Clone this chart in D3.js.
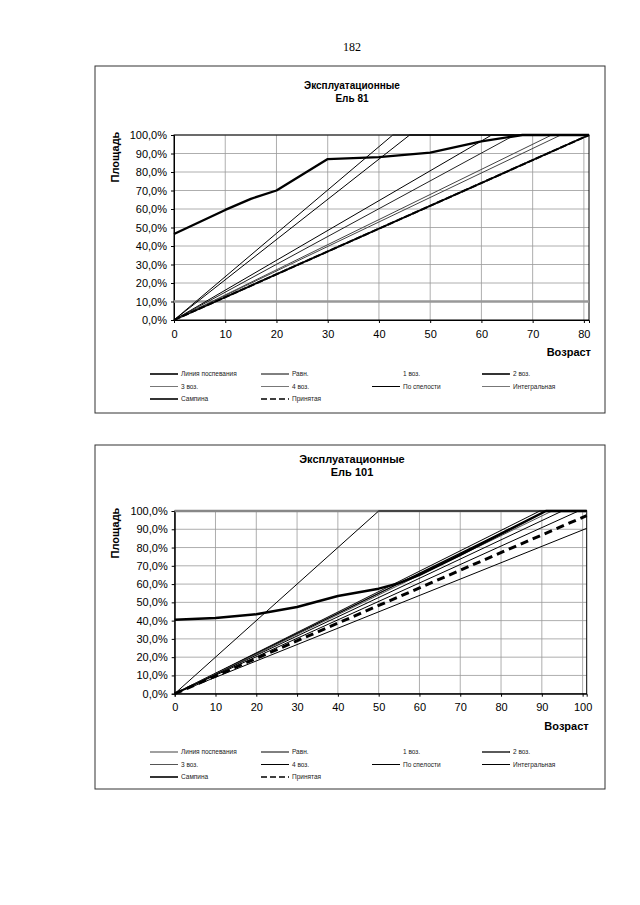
<!DOCTYPE html>
<meta charset="utf-8">
<style>
  body { margin: 0; background: #fff; }
  text { font-family: "Liberation Sans", Arial, sans-serif; }
</style>
<body>
<div id="page"></div>
<script src="https://d3js.org/d3.v7.min.js"></script>
<script>
// legend order (same for both charts)
var seriesNames = ["Линия поспевания", "Равн.", "1 воз.", "2 воз.", "3 воз.", "4 воз.",
  "По спелости", "Интегральная", "Сампина", "Принятая"];

var yTicks = [0, 10, 20, 30, 40, 50, 60, 70, 80, 90, 100];
var xTicks81 = [0, 10, 20, 30, 40, 50, 60, 70, 80];
var xTicks101 = [0, 10, 20, 30, 40, 50, 60, 70, 80, 90, 100];

// Ель 81: [возраст, площадь %]
var el81Line = [[0, 10], [81, 10]];
var el81Ravn = [[0, 0], [42.7, 100], [81, 100]];
var el81Voz1 = [[0, 0], [46, 100], [81, 100]];
var el81Voz2 = [[0, 0], [81, 100]];
var el81Voz3 = [[0, 0], [73.7, 100], [81, 100]];
var el81Voz4 = [[0, 0], [75.5, 100], [81, 100]];
var el81Spel = [[0, 0], [62, 100], [81, 100]];
var el81Integr = [[0, 0], [66.5, 100], [81, 100]];
var el81Samp = [[0, 46.5], [10, 59.5], [15, 65.5], [20, 70], [25, 78.5], [30, 87], [40, 88],
  [50, 90.5], [60, 96.5], [68, 100], [81, 100]];
var el81Prin = [[0, 0], [81, 100]];

// Ель 101
var el101Line = [[0, 100], [101, 100]];
var el101Ravn = [[0, 0], [89.5, 100], [101, 100]];
var el101Voz1 = [[0, 0], [50, 100], [101, 100]];
var el101Voz2 = [[0, 0], [91, 100], [101, 100]];
var el101Voz3 = [[0, 0], [92.5, 100], [101, 100]];
var el101Voz4 = [[0, 0], [95, 100], [101, 100]];
var el101Spel = [[0, 0], [101, 90.5]];
var el101Integr = [[0, 0], [99, 100], [101, 100]];
var el101Samp = [[0, 40.5], [10, 41.5], [20, 43.5], [30, 47.5], [40, 53.5], [50, 57.5],
  [55, 60.5], [60, 65], [70, 76], [80, 87.5], [91, 100], [101, 100]];
var el101Prin = [[0, 0], [101, 97.5]];

var svg = d3.select("#page").append("svg")
  .attr("width", 640).attr("height", 905);

svg.append("text")
  .attr("x", 352).attr("y", 51)
  .attr("text-anchor", "middle")
  .style("font-family", "'Liberation Serif', 'Times New Roman', serif")
  .style("font-size", "12px")
  .text("182");

function drawChart(c) {
  // outer frame
  svg.append("rect")
    .attr("x", c.box[0]).attr("y", c.box[1])
    .attr("width", c.box[2]).attr("height", c.box[3])
    .attr("fill", "none").attr("stroke", "#333").attr("stroke-width", 1);

  svg.append("text")
    .attr("x", 352).attr("y", c.titleY)
    .attr("text-anchor", "middle")
    .style("font-weight", "bold").style("font-size", c.titleSize)
    .text("Эксплуатационные");
  svg.append("text")
    .attr("x", 352).attr("y", c.titleY + 13)
    .attr("text-anchor", "middle")
    .style("font-weight", "bold").style("font-size", c.titleSize)
    .text(c.title);

  var x = d3.scaleLinear().domain([0, c.xMax]).range([c.left, c.right]);
  var y = d3.scaleLinear().domain([0, 100]).range([c.bottom, c.top]);

  // grid
  svg.append("g").selectAll("line").data(c.xTicks.slice(1)).enter().append("line")
    .attr("x1", function (d) { return x(d); }).attr("x2", function (d) { return x(d); })
    .attr("y1", c.top).attr("y2", c.bottom)
    .attr("stroke", "#999").attr("stroke-width", 0.8);
  svg.append("g").selectAll("line").data(yTicks.slice(1)).enter().append("line")
    .attr("y1", function (d) { return y(d); }).attr("y2", function (d) { return y(d); })
    .attr("x1", c.left).attr("x2", c.right)
    .attr("stroke", "#999").attr("stroke-width", 0.8);

  svg.append("rect")
    .attr("x", c.left).attr("y", c.top)
    .attr("width", c.right - c.left).attr("height", c.bottom - c.top)
    .attr("fill", "none").attr("stroke", "#000").attr("stroke-width", 1);

  // axes
  var gx = svg.append("g")
    .attr("transform", "translate(0," + c.bottom + ")")
    .call(d3.axisBottom(x).tickValues(c.xTicks).tickSize(3).tickPadding(7));
  var gy = svg.append("g")
    .attr("transform", "translate(" + c.left + ",0)")
    .call(d3.axisLeft(y).tickValues(yTicks).tickSize(3).tickPadding(4)
      .tickFormat(function (d) { return d.toFixed(1).replace(".", ",") + "%"; }));
  [gx, gy].forEach(function (g) {
    g.select(".domain").attr("stroke", "#000");
    g.selectAll(".tick line").attr("stroke", "#000");
    g.selectAll("text").style("font-size", "11px")
      .style("font-family", "'Liberation Sans', Arial, sans-serif").attr("fill", "#000");
  });

  svg.append("text")
    .attr("x", c.right + 2).attr("y", c.bottom + 36)
    .attr("text-anchor", "end")
    .style("font-weight", "bold").style("font-size", "11px")
    .text("Возраст");
  svg.append("text")
    .attr("transform", "translate(" + 119 + "," + (c.top + 22) + ") rotate(-90)")
    .attr("text-anchor", "middle")
    .style("font-weight", "bold").style("font-size", "11px")
    .text("Площадь");

  var line = d3.line()
    .x(function (d) { return x(d[0]); })
    .y(function (d) { return y(d[1]); });

  c.series.forEach(function (s) {
    svg.append("path")
      .datum(s.data)
      .attr("d", line)
      .attr("fill", "none")
      .attr("stroke", s.color)
      .attr("stroke-width", s.width)
      .attr("stroke-dasharray", s.dash || null)
      .attr("stroke-linejoin", "round");
  });

  // legend
  var colX = [150, 261, 372, 482];
  c.series.forEach(function (s, i) {
    var cx = colX[i % 4];
    var cy = c.legendY + Math.floor(i / 4) * 12.5;
    if (!s.noLegendLine) {
      svg.append("line")
        .attr("x1", cx).attr("x2", cx + 28)
        .attr("y1", cy).attr("y2", cy)
        .attr("stroke", s.legendColor || s.color)
        .attr("stroke-width", Math.min(s.width, 1.6))
        .attr("stroke-dasharray", s.dash ? "6,3" : null);
    }
    svg.append("text")
      .attr("x", cx + 31).attr("y", cy + 2.4)
      .style("font-size", "6.5px")
      .attr("fill", "#222")
      .text(seriesNames[i]);
  });
}

drawChart({
  box: [95, 66, 510, 347],
  title: "Ель 81", titleY: 89, titleSize: "10px",
  left: 174, right: 589, top: 135, bottom: 320,
  xMax: 81, xTicks: xTicks81, legendY: 374,
  series: [
    { data: el81Line, color: "#999", width: 2.5, legendColor: "#000" },
    { data: el81Ravn, color: "#000", width: 1 },
    { data: el81Voz1, color: "#000", width: 1, noLegendLine: true },
    { data: el81Voz2, color: "#000", width: 1.8 },
    { data: el81Voz3, color: "#444", width: 1, legendColor: "#777" },
    { data: el81Voz4, color: "#444", width: 1, legendColor: "#777" },
    { data: el81Spel, color: "#000", width: 1 },
    { data: el81Integr, color: "#222", width: 1, legendColor: "#777" },
    { data: el81Samp, color: "#000", width: 2.3 },
    { data: el81Prin, color: "#000", width: 2, dash: "7,2" }
  ]
});

drawChart({
  box: [95, 445, 510, 344],
  title: "Ель 101", titleY: 463, titleSize: "11px",
  left: 174.7, right: 586.7, top: 511, bottom: 693.7,
  xMax: 101, xTicks: xTicks101, legendY: 752,
  series: [
    { data: el101Line, color: "#888", width: 2.5 },
    { data: el101Ravn, color: "#000", width: 1 },
    { data: el101Voz1, color: "#000", width: 1, noLegendLine: true },
    { data: el101Voz2, color: "#000", width: 1.3 },
    { data: el101Voz3, color: "#555", width: 1 },
    { data: el101Voz4, color: "#000", width: 1 },
    { data: el101Spel, color: "#000", width: 1 },
    { data: el101Integr, color: "#000", width: 1 },
    { data: el101Samp, color: "#000", width: 2.5 },
    { data: el101Prin, color: "#000", width: 3, dash: "8,5" }
  ]
});
</script>
</body>
